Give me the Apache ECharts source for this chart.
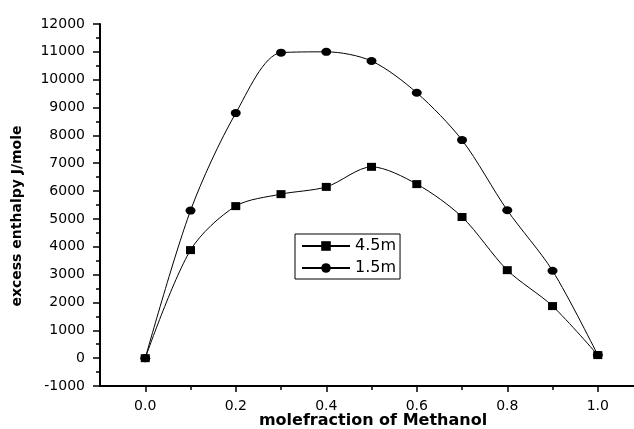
<!DOCTYPE html>
<html>
<head>
<meta charset="utf-8">
<script src="https://cdn.jsdelivr.net/npm/echarts@6/dist/echarts.min.js"></script>
<style>
  html, body { margin: 0; padding: 0; background: #fff; }
  #chart { width: 634px; height: 429px; }
</style>
</head>
<body>
<div id="chart"></div>
<script>
// mole fraction of methanol
const moleFraction = [0.0, 0.1, 0.2, 0.3, 0.4, 0.5, 0.6, 0.7, 0.8, 0.9, 1.0]
// excess enthalpy, J/mole
const h45m = [0, 3880, 5460, 5890, 6150, 6870, 6250, 5070, 3160, 1870, 110]
const h15m = [0, 5300, 8800, 10970, 11000, 10670, 9530, 7830, 5310, 3140, 110]

const xMajorTicks = [0.0, 0.2, 0.4, 0.6, 0.8, 1.0]
const xMinorTicks = [0.1, 0.3, 0.5, 0.7, 0.9]

const pairs = ys => moleFraction.map((x, i) => [x, ys[i]])

const chart = echarts.init(document.getElementById('chart'))

const font = 'DejaVu Sans'

chart.setOption({
  animation: false,
  grid: {
    left: 100,
    right: 0,
    top: 24,
    bottom: 43,
    outerBoundsMode: 'none'
  },
  legend: {
    orient: 'vertical',
    left: 295,
    top: 234,
    borderColor: '#000',
    borderWidth: 1,
    padding: [4, 4, 3, 6],
    itemGap: 6,
    itemWidth: 48,
    itemHeight: 12,
    textStyle: { fontFamily: font, fontSize: 16, color: '#000' },
    data: ['4.5m', '1.5m']
  },
  xAxis: [
    {
      type: 'value',
      min: -0.1,
      max: 1.08,
      name: 'molefraction of Methanol',
      nameLocation: 'middle',
      nameGap: 27,
      nameMoveOverlap: false,
      nameTextStyle: { fontFamily: font, fontSize: 16, fontWeight: 'bold', color: '#000', padding: [0, 0, 0, 12] },
      splitLine: { show: false },
      axisLine: { onZero: false, lineStyle: { color: '#000', width: 2 } },
      axisTick: { customValues: xMajorTicks, length: 6, lineStyle: { color: '#000', width: 1.5 } },
      axisLabel: {
        customValues: xMajorTicks,
        fontFamily: font,
        fontSize: 14,
        color: '#000',
        margin: 13,
        formatter: v => v.toFixed(1)
      }
    },
    {
      type: 'value',
      min: -0.1,
      max: 1.08,
      position: 'bottom',
      splitLine: { show: false },
      axisLine: { show: false, onZero: false },
      axisTick: { show: true, customValues: xMinorTicks, length: 4, lineStyle: { color: '#000', width: 1.5 } },
      axisLabel: { show: false }
    }
  ],
  yAxis: {
    type: 'value',
    min: -1000,
    max: 12000,
    interval: 1000,
    name: 'excess enthalpy J/mole',
    nameLocation: 'middle',
    nameGap: 76,
    nameTextStyle: { fontFamily: font, fontSize: 14, fontWeight: 'bold', color: '#000', padding: [0, 22, 0, 0] },
    splitLine: { show: false },
    axisLine: { onZero: false, lineStyle: { color: '#000', width: 2 } },
    axisTick: { length: 7, lineStyle: { color: '#000', width: 1.5 } },
    minorTick: { show: true, splitNumber: 2, length: 4, lineStyle: { color: '#000', width: 1.5 } },
    axisLabel: { fontFamily: font, fontSize: 14, color: '#000', margin: 15, formatter: v => String(v) }
  },
  series: [
    {
      name: '4.5m',
      type: 'line',
      smooth: 0.3,
      symbol: 'rect',
      symbolSize: [9, 8],
      color: '#000',
      lineStyle: { color: '#000', width: 1 },
      itemStyle: { color: '#000' },
      data: pairs(h45m)
    },
    {
      name: '1.5m',
      type: 'line',
      smooth: 0.3,
      symbol: 'circle',
      symbolSize: [10, 8],
      color: '#000',
      lineStyle: { color: '#000', width: 1 },
      itemStyle: { color: '#000' },
      data: pairs(h15m)
    }
  ]
})
</script>
</body>
</html>
